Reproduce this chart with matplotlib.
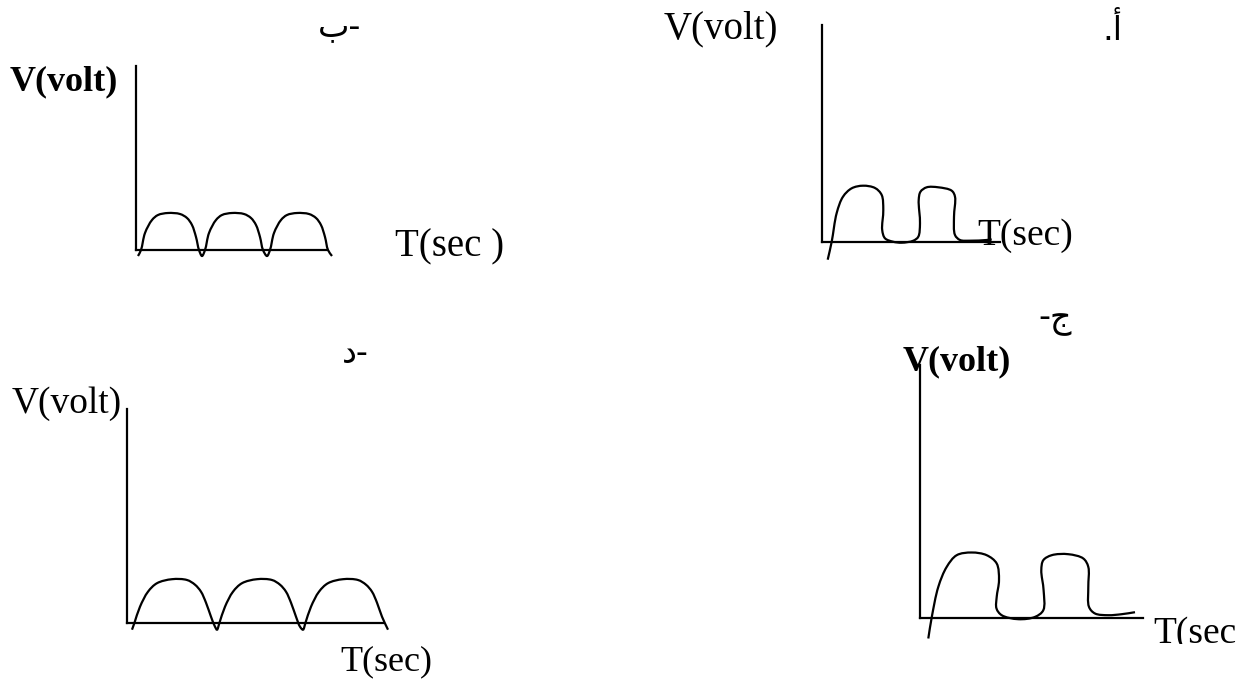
import numpy as np
import matplotlib
matplotlib.use("Agg")
import matplotlib.pyplot as plt
from matplotlib.path import Path
from matplotlib.patches import PathPatch
from matplotlib.transforms import Bbox

# ---------------- data (arbitrary time / voltage units) ----------------
# panel "ب" : full-wave rectified style output
wave_b_t = [2, 5, 9, 16, 22, 32, 44, 51, 56, 60, 63, 66,
            69, 73, 80, 86, 96, 108, 115, 120, 124, 127, 131,
            134, 138, 145, 151, 161, 173, 180, 185, 189, 192, 196]
wave_b_v = [-6, 0, 17, 30, 35, 37, 36, 32, 25, 13, 0, -6,
            0, 17, 30, 35, 37, 36, 32, 25, 13, 0, -6,
            0, 17, 30, 35, 37, 36, 32, 25, 13, 0, -6]

# panel "أ" : square-like wave
wave_a_t = [6, 10, 15, 21.3, 30, 41.3, 53.3, 60, 61.6, 60.5, 63.3, 71.3, 80,
            91.6, 96.6, 98.3, 97, 98.8, 105, 116.6, 130, 133.3, 132.3, 133.3,
            138.3, 148.3, 165, 170]
wave_a_v = [-18, 0, 28.7, 45, 53.4, 56, 53.7, 46.7, 31.7, 11.7, 3.4, 0, -1,
            1, 5, 18.4, 41.7, 50, 54.4, 54.4, 51, 45, 25, 6.7,
            1.7, 1, 1.7, 2.3]

# panel "د" : full-wave rectified style output
wave_d_t = [5, 7.5, 13, 21, 30, 45, 60, 68, 74, 79, 84, 88, 90,
            92.5, 98, 106, 115, 130, 145, 153, 159, 164, 169, 173, 176,
            178.5, 184, 192, 201, 216, 231, 239, 245, 250, 255, 261]
wave_d_v = [-7, 0, 16, 31, 39.5, 43.5, 42.7, 38, 31, 20, 6, -4, -7,
            0, 16, 31, 39.5, 43.5, 42.7, 38, 31, 20, 6, -4, -7,
            0, 16, 31, 39.5, 43.5, 42.7, 38, 31, 20, 6, -7]

# panel "ج" : square-like wave
wave_c_t = [8.3, 11.7, 18.3, 26.7, 36.7, 51.7, 66.7, 76.7, 79, 76.7, 76.5, 81.7,
            98.3, 115, 123.3, 123.6, 121.3, 123.3, 131.7, 148.3, 163.3, 168.3,
            168.3, 169, 175, 188.3, 201.7, 215]
wave_c_v = [-21, 0, 30.6, 50.6, 62.3, 65, 62.3, 54, 37.3, 20.6, 9, 2.3,
            -1.7, 0.6, 7.3, 27.3, 47.3, 57.3, 62.3, 63.3, 59, 50.6,
            30.6, 10.6, 4, 2.3, 3.3, 5.3]

# axis extents (time length, voltage height) per panel
axis_len = {"b": (191, 184), "a": (178, 217), "d": (256, 214), "c": (223, 252.5)}

# ---------------- layout (pixels) ----------------
FW, FH = 1245, 682
fig = plt.figure(figsize=(FW / 100, FH / 100), dpi=100)
fig.patch.set_facecolor("white")

origins = {"b": (136, 250), "a": (821.7, 241.7), "d": (127, 622.7), "c": (920, 617.5)}


def fx(px):
    return px / FW


def fy(py):
    return 1 - py / FH


def smooth_path(ts, vs, alpha=0.5):
    """Centripetal Catmull-Rom through the knots, drawn as cubic Beziers."""
    p = np.column_stack([ts, vs]).astype(float)
    ext = np.vstack([2 * p[0] - p[1], p, 2 * p[-1] - p[-2]])
    verts = [p[0]]
    codes = [Path.MOVETO]
    for i in range(1, len(ext) - 2):
        p0, p1, p2, p3 = ext[i - 1], ext[i], ext[i + 1], ext[i + 2]
        d0 = max(np.linalg.norm(p1 - p0) ** alpha, 1e-6)
        d1 = max(np.linalg.norm(p2 - p1) ** alpha, 1e-6)
        d2 = max(np.linalg.norm(p3 - p2) ** alpha, 1e-6)
        m1 = (p1 - p0) / d0 - (p2 - p0) / (d0 + d1) + (p2 - p1) / d1
        m2 = (p2 - p1) / d1 - (p3 - p1) / (d1 + d2) + (p3 - p2) / d2
        c1 = p1 + m1 * d1 / 3.0
        c2 = p2 - m2 * d1 / 3.0
        verts += [c1, c2, p2]
        codes += [Path.CURVE4] * 3
    return Path(verts, codes)


waves = {"b": (wave_b_t, wave_b_v), "a": (wave_a_t, wave_a_v),
         "d": (wave_d_t, wave_d_v), "c": (wave_c_t, wave_c_v)}

for key, (ox, oy) in origins.items():
    W, H = axis_len[key]
    ax = fig.add_axes([fx(ox), fy(oy), W / FW, H / FH])
    ax.set_xlim(0, W)
    ax.set_ylim(0, H)
    ax.patch.set_alpha(0)
    for s in ("top", "right"):
        ax.spines[s].set_visible(False)
    for s in ("left", "bottom"):
        ax.spines[s].set_linewidth(1.6)
        ax.spines[s].set_color("black")
    ax.set_xticks([])
    ax.set_yticks([])
    t, v = waves[key]
    patch = PathPatch(smooth_path(t, v), fill=False, lw=1.6, ec="black",
                      transform=ax.transData, clip_on=False, capstyle="butt")
    ax.add_patch(patch)

serif = ["Liberation Serif", "DejaVu Serif"]
arab = ["DejaVu Sans"]


def label(px, py, s, size=27, weight="normal", fam=serif, **kw):
    return fig.text(fx(px), fy(py), s, fontsize=size, fontweight=weight,
                    family=fam, ha="left", va="baseline", **kw)


# panel ب
label(10, 90, "V(volt)", size=26, weight="bold")
label(395, 256, "T(sec )", size=28)
label(318, 36, "ب-", size=24, fam=arab)

# panel أ
label(664, 38, "V(volt)", size=28)
label(977, 245, "T(sec)", size=27)
label(1102, 40, ".أ", size=24, fam=arab)

# panel د
label(12, 413, "V(volt)", size=27)
label(340, 670, "T(sec)", size=26)
label(342, 363, "د-", size=24, fam=arab)

# panel ج
label(903, 370, "V(volt)", size=26, weight="bold")
tc = label(1153, 643, "T(sec", size=27)
tc.set_clip_box(Bbox.from_extents(0, FH - 644, FW, FH))
tc.set_clip_on(True)
label(1038, 327, "-ج", size=24, fam=arab)

fig.savefig("out.png", dpi=100, facecolor="white")
